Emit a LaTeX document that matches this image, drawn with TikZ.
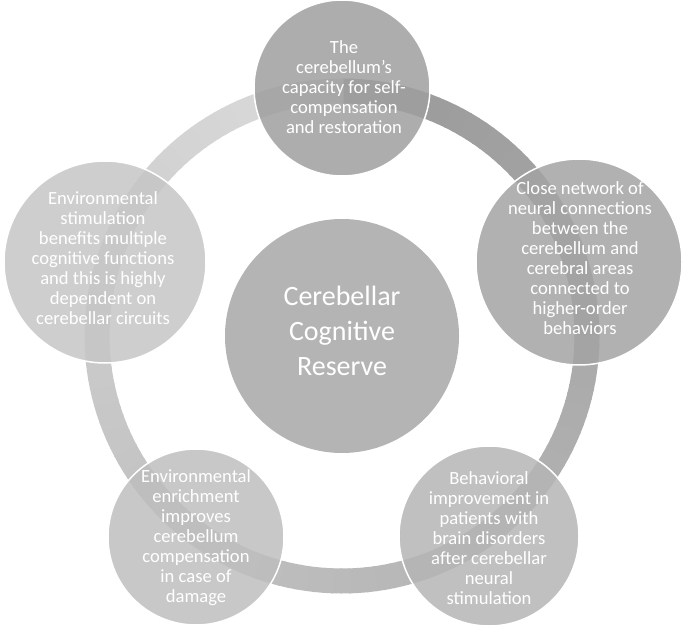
\documentclass[tikz,border=0pt]{standalone}
\usepackage{fontspec}
\setmainfont{Carlito}
\definecolor{cCenter}{gray}{0.706}
\definecolor{cTop}{gray}{0.625}
\definecolor{cRight}{gray}{0.64}
\definecolor{cBR}{gray}{0.71}
\definecolor{cBL}{gray}{0.745}
\definecolor{cLeft}{gray}{0.776}
\tikzset{
  bub/.style={circle, draw=white, line width=1.5pt, fill opacity=0.85, inner sep=0pt},
  hub/.style={circle, inner sep=0pt, fill=cCenter},
  txt/.style={text=white, align=center, inner sep=0pt, font=\fontsize{18.6}{20}\selectfont},
  bigtxt/.style={text=white, align=center, inner sep=0pt, font=\fontsize{28}{35}\selectfont}
}
\begin{document}
\begin{tikzpicture}[x=1pt,y=1pt]
\useasboundingbox (0,0) rectangle (685,-628);
\coordinate (O) at (342,-336);
% ring with angular gradient
\foreach \i in {0,...,179} {
  \pgfmathsetmacro\a{90-2*\i}
  \pgfmathsetmacro\g{60+26*\i/180}
  \pgfmathsetmacro\e{\a-2.4}
  \draw[line width=25pt, color=white!\g!black] ([shift={(\a:245)}]O) arc[start angle=\a, end angle=\e, radius=245];
}
% centre
\node[hub, minimum size=234pt] (hub) at (O) {};
\node[bigtxt] (hubt) at ([yshift=5pt]hub) {Cerebellar\\Cognitive\\Reserve};
% outer circles
\node[bub, fill=cTop, minimum size=176pt] (top) at (342,-88) {};
\node[bub, fill=cRight, minimum size=206pt] (right) at (579,-262) {};
\node[bub, fill=cBR, minimum size=180pt] (br) at (489,-536) {};
\node[bub, fill=cBL, minimum size=176pt] (bl) at (196,-537) {};
\node[bub, fill=cLeft, minimum size=202pt] (left) at (105,-262) {};
% texts
\node[txt] (topt) at (344,-87) {The\\cerebellum's\\capacity for self-\\compensation\\and restoration};
\node[txt] (rightt) at (580,-258) {Close network of\\neural connections\\between the\\cerebellum and\\cerebral areas\\connected to\\higher-order\\behaviors};
\node[txt] (brt) at (489,-538) {Behavioral\\improvement in\\patients with\\brain disorders\\after cerebellar\\neural\\stimulation};
\node[txt] (blt) at (196,-538) {Environmental\\enrichment\\improves\\cerebellum\\compensation\\in case of\\damage};
\node[txt] (leftt) at (103,-258) {Environmental\\stimulation\\benefits multiple\\cognitive functions\\and this is highly\\dependent on\\cerebellar circuits};
\end{tikzpicture}
\end{document}
